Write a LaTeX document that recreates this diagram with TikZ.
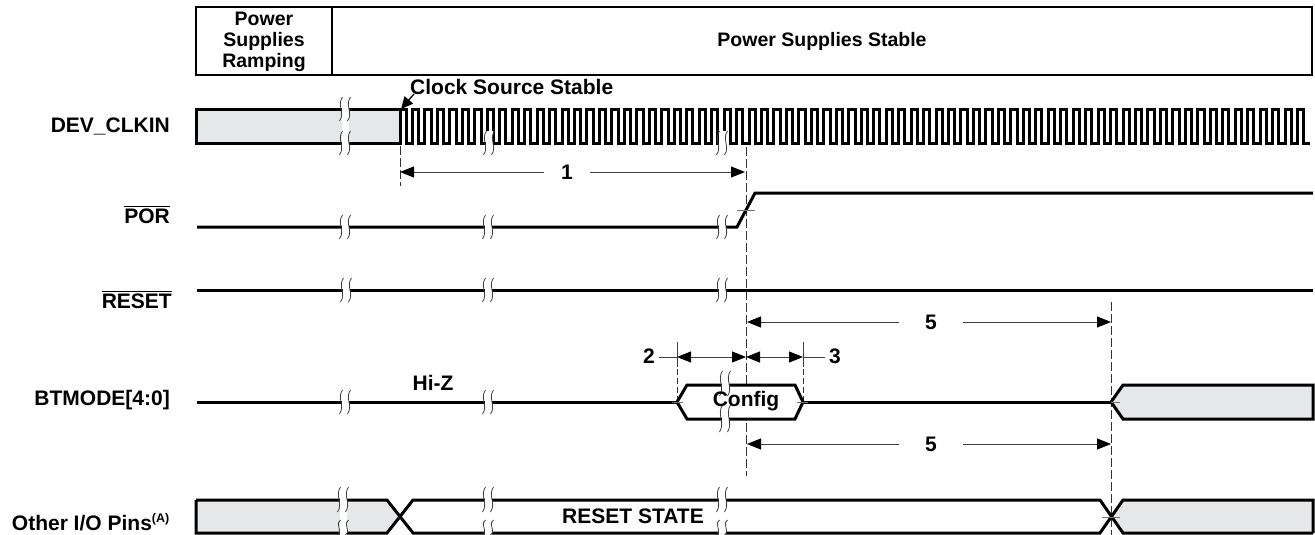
\documentclass[tikz,border=0pt]{standalone}
\usepackage{fontspec}
\setmainfont{Liberation Sans}
\usetikzlibrary{arrows.meta}
\definecolor{boxgray}{RGB}{230,231,232}
\newcommand\sigfont{\fontsize{21}{24}\selectfont\bfseries}
\newcommand\hdrfont{\fontsize{19.5}{21}\selectfont\bfseries}
\newcommand\ovl[1]{\leavevmode\vbox{\hrule height 1.3pt \kern 1.6pt \hbox{#1}}}
\newcommand\brkstrip[3]{\fill[white] ({(#1)-3.5},{#2}) rectangle ({(#1)+3.5},{#3});}
\newcommand\brkmarks[3]{%
  \foreach \dx in {-4,4}{%
    \draw[brkline] ({(#1)+\dx+1.5},{#2}) .. controls ({(#1)+\dx-4.5},{(#2)+((#3)-(#2))*0.35}) and ({(#1)+\dx+4.5},{(#2)+((#3)-(#2))*0.65}) .. ({(#1)+\dx-1.5},{#3});}}
\newcommand\sigbrk[2]{\brkstrip{#1}{(#2)-12}{(#2)+12}\brkmarks{#1}{(#2)-12}{(#2)+12}}
\begin{document}
\begin{tikzpicture}[x=1pt,y=-1pt,
  sig/.style={line width=3pt, line join=miter, line cap=butt},
  dim/.style={line width=1pt, draw=black!75},
  tip/.style={-{Triangle[length=14pt,width=11pt,color=black]}},
  tips/.style={{Triangle[length=14pt,width=11pt,color=black]}-{Triangle[length=14pt,width=11pt,color=black]}},
  vdash/.style={line width=1pt, dash pattern=on 9pt off 3pt, draw=black!80},
  lbl/.style={anchor=east, inner sep=0pt, font=\sigfont},
  txt/.style={inner sep=0pt, font=\sigfont},
  hdr/.style={inner sep=0pt, font=\hdrfont, align=center},
  brkline/.style={line width=0.8pt, draw=black!75},
  tick/.style={line width=0.8pt, draw=black!55}]
\useasboundingbox (0,0) rectangle (1315,535);

% ---------- header ----------
\draw[line width=1.8pt] (196,7) rectangle (1312,75);
\draw[line width=1.8pt] (332,7) -- (332,75);
\node[hdr] (ramp) at (264,42) {Power\\Supplies\\Ramping};
\node[hdr] (stable) at (822,41) {Power Supplies Stable};

% ---------- labels ----------
\node[lbl] (lclk) at (170,126) {DEV\_CLKIN};
\node[lbl] (lpor) at (170,215) {\ovl{POR}};
\node[lbl] (lrst) at (172,300) {\ovl{RESET}};
\node[lbl] (lbt) at (170,400) {BTMODE[4:0]};
\node[lbl] (lio) at (170,522) {Other I/O Pins\textsuperscript{\fontsize{12.5}{12.5}\selectfont(A)}};

% ---------- DEV_CLKIN ----------
\filldraw[sig, fill=boxgray] (196,109) rectangle (400,143);
\pgfmathsetmacro\p{910/73}
\draw[sig] (400,143) \foreach \k in {0,...,72}{
  -- ({400+\k*\p},109) -- ({400+\k*\p+\p/2},109) -- ({400+\k*\p+\p/2},143) -- ({400+(\k+1)*\p},143)};
\brkstrip{345}{97}{155}
\brkmarks{345}{97}{121}
\brkmarks{345}{131}{155}
\brkstrip{489}{131}{155}\brkmarks{489}{131}{155}
\brkstrip{722}{131}{155}\brkmarks{722}{131}{155}
\node[txt, anchor=west] (css) at (410,87) {Clock Source Stable};
\coordinate (cssTail) at (414,94);
\coordinate (cssTip) at (401,109);
\draw[line width=1.3pt, -{Triangle[length=12pt,width=11pt]}] (cssTail) -- (cssTip);

% ---------- vertical reference lines ----------
\draw[vdash] (400,146) -- (400,186);
\draw[vdash] (746,147) -- (746,476);
\draw[vdash] (1111,302) -- (1111,535);

% ---------- dimension 1 ----------
\coordinate (a1L) at (400,172);
\coordinate (a1R) at (745,172);
\node[txt, inner xsep=17pt] (n1) at (567,172) {1};
\draw[dim, tip] (n1) -- (a1L);
\draw[dim, tip] (n1) -- (a1R);

% ---------- POR ----------
\draw[sig] (197,227) -- (737,227) -- (755,193) -- (1313,193);
\sigbrk{345}{227}
\sigbrk{488}{227}
\sigbrk{722}{227}
\draw[tick] (737,210) -- (755,210);

% ---------- RESET ----------
\draw[sig] (197,290) -- (1313,290);
\sigbrk{346}{290}
\sigbrk{488}{290}
\sigbrk{722}{290}

% ---------- dimension 5 (upper) ----------
\coordinate (a5L) at (747,322);
\coordinate (a5R) at (1111,322);
\node[txt, inner xsep=26pt] (n5a) at (931,322) {5};
\draw[dim, tip] (n5a) -- (a5L);
\draw[dim, tip] (n5a) -- (a5R);

% ---------- dimensions 2 and 3 ----------
\draw[dim] (677,342) -- (677,367);
\draw[vdash, dash pattern=on 6pt off 3pt] (677,369) -- (677,402);
\draw[dim] (803,342) -- (803,367);
\draw[vdash, dash pattern=on 6pt off 3pt] (803,369) -- (803,402);
\coordinate (d2L) at (677,357);
\coordinate (d2R) at (746,357);
\coordinate (d3R) at (803,357);
\draw[dim, tips] (d2L) -- (d2R);
\draw[dim, tips] (d2R) -- (d3R);
\node[txt] (n2) at (649,356) {2};
\node[txt] (n3) at (835,356) {3};
\draw[dim] (n2.east) ++(4,1) -- (d2L);
\draw[dim] (d3R) -- ++(22,0);

% ---------- BTMODE ----------
\draw[sig] (197,402) -- (677,402);
\sigbrk{345}{402}
\sigbrk{488}{402}
\node[txt] (hiz) at (433,383) {Hi-Z};
\filldraw[sig, fill=white] (677,402) -- (687,385) -- (795,385) -- (803,402) -- (795,419) -- (687,419) -- cycle;
\brkstrip{725}{371}{432}
\brkmarks{725}{371}{396}
\brkmarks{725}{405}{432}
\node[txt] (cfg) at (746,401) {Config};
\draw[sig] (803,402) -- (1111,402);
\filldraw[sig, fill=boxgray] (1111,402) -- (1123,385) -- (1313,385) -- (1313,419) -- (1123,419) -- cycle;
\draw[tick] (672,402) -- (683,402);
\draw[tick] (797,402) -- (808,402);
\draw[tick] (1111,402) -- (1120,402);

% ---------- dimension 5 (lower) ----------
\coordinate (b5L) at (747,444);
\coordinate (b5R) at (1111,444);
\node[txt, inner xsep=26pt] (n5b) at (931,444) {5};
\draw[dim, tip] (n5b) -- (b5L);
\draw[dim, tip] (n5b) -- (b5R);

% ---------- Other I/O ----------
\fill[boxgray] (196,500) -- (387,500) -- (400,516.5) -- (387,533) -- (196,533) -- cycle;
\fill[boxgray] (1111.5,516.5) -- (1123,500) -- (1313,500) -- (1313,533) -- (1123,533) -- cycle;
\draw[sig] (196,500) -- (387,500) -- (413,533) -- (1100,533) -- (1123,500) -- (1313,500) -- (1313,533);
\draw[sig] (1313,533) -- (1123,533) -- (1100,500) -- (413,500) -- (387,533) -- (196,533) -- (196,500);
\brkstrip{343}{487}{535}
\brkmarks{343}{487}{512}
\brkmarks{343}{520}{535}
\brkstrip{488}{487}{535}
\brkmarks{488}{487}{512}
\brkmarks{488}{520}{535}
\brkstrip{722}{487}{535}
\brkmarks{722}{487}{512}
\brkmarks{722}{520}{535}
\node[txt] (rst) at (633,516) {RESET STATE};
\draw[tick] (1102,517) -- (1120,517);
\end{tikzpicture}
\end{document}
